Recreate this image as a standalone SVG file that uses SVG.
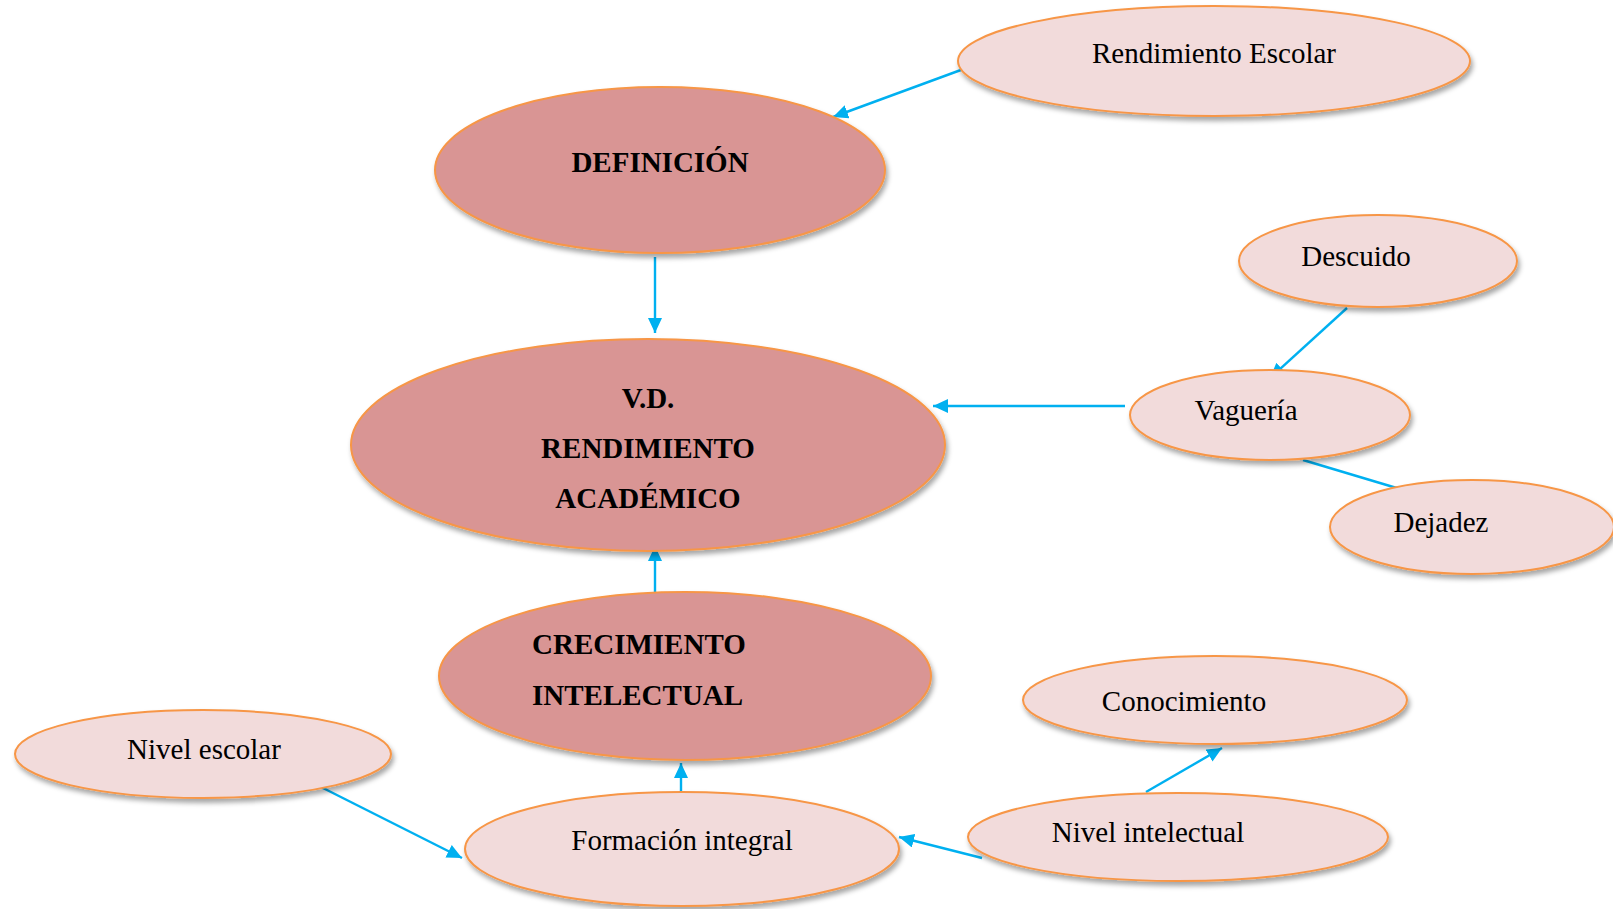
<svg xmlns="http://www.w3.org/2000/svg" width="1613" height="909" viewBox="0 0 1613 909">
<style>
.dark{fill:#d99594;stroke:#f79646;stroke-width:2;filter:url(#sh)}
.light{fill:#f2dbdb;stroke:#f79646;stroke-width:2;filter:url(#sh)}
.t{font-family:"Liberation Serif","Times New Roman",serif;font-size:29px;fill:#000}
.b{font-weight:bold}
.c{stroke:#00b0f0;stroke-width:2.4;fill:none}
.a{marker-end:url(#ah)}
</style>
<defs>
<filter id="sh" x="-10%" y="-10%" width="125%" height="135%">
<feDropShadow dx="2" dy="4" stdDeviation="2.5" flood-color="#000" flood-opacity="0.35"/>
</filter>
<marker id="ah" markerUnits="userSpaceOnUse" markerWidth="17" markerHeight="15" refX="15" refY="7" orient="auto">
<path d="M0,0 L15,7 L0,14 z" fill="#00b0f0"/>
</marker>
</defs>
<rect width="1613" height="909" fill="#fff"/>
<g id="connectors">
<path class="c a" d="M969,67 L833,117"/>
<path class="c a" d="M655,257 L655,333"/>
<path class="c a" d="M1125,406 L933,406"/>
<path class="c a" d="M655,592 L655,546"/>
<path class="c a" d="M1347,308 L1270,378"/>
<path class="c" d="M1303,460 L1400,489"/>
<path class="c a" d="M681,792 L681,763"/>
<path class="c a" d="M317,785 L462,858"/>
<path class="c a" d="M982,858 L899,837"/>
<path class="c a" d="M1146,792 L1222,748"/>
</g>
<g id="rendimiento-escolar">
<ellipse class="light" cx="1214" cy="61" rx="256" ry="55"/>
<text class="t" x="1214" y="63" text-anchor="middle">Rendimiento Escolar</text>
</g>
<g id="definicion">
<ellipse class="dark" cx="660" cy="170" rx="225" ry="83"/>
<text class="t b" x="660" y="172" text-anchor="middle">DEFINICIÓN</text>
</g>
<g id="vd">
<ellipse class="dark" cx="648" cy="445" rx="297" ry="106"/>
<text class="t b" x="648" y="408" text-anchor="middle">V.D.</text>
<text class="t b" x="648" y="458" text-anchor="middle">RENDIMIENTO</text>
<text class="t b" x="648" y="508" text-anchor="middle">ACADÉMICO</text>
</g>
<g id="descuido">
<ellipse class="light" cx="1378" cy="261" rx="139" ry="46"/>
<text class="t" x="1356" y="266" text-anchor="middle">Descuido</text>
</g>
<g id="vagueria">
<ellipse class="light" cx="1270" cy="415" rx="140" ry="45"/>
<text class="t" x="1246" y="420" text-anchor="middle">Vaguería</text>
</g>
<g id="dejadez">
<ellipse class="light" cx="1472" cy="527" rx="142" ry="47"/>
<text class="t" x="1441" y="532" text-anchor="middle">Dejadez</text>
</g>
<g id="crecimiento">
<ellipse class="dark" cx="685" cy="676" rx="246" ry="84"/>
<text class="t b" x="532" y="654">CRECIMIENTO</text>
<text class="t b" x="532" y="705">INTELECTUAL</text>
</g>
<g id="nivel-escolar">
<ellipse class="light" cx="203" cy="754" rx="188" ry="44"/>
<text class="t" x="204" y="759" text-anchor="middle">Nivel escolar</text>
</g>
<g id="formacion">
<ellipse class="light" cx="682" cy="849" rx="217" ry="57"/>
<text class="t" x="682" y="850" text-anchor="middle">Formación integral</text>
</g>
<g id="conocimiento">
<ellipse class="light" cx="1215" cy="700" rx="192" ry="44"/>
<text class="t" x="1184" y="711" text-anchor="middle">Conocimiento</text>
</g>
<g id="nivel-intelectual">
<ellipse class="light" cx="1178" cy="837" rx="210" ry="44"/>
<text class="t" x="1148" y="842" text-anchor="middle">Nivel intelectual</text>
</g>
</svg>
